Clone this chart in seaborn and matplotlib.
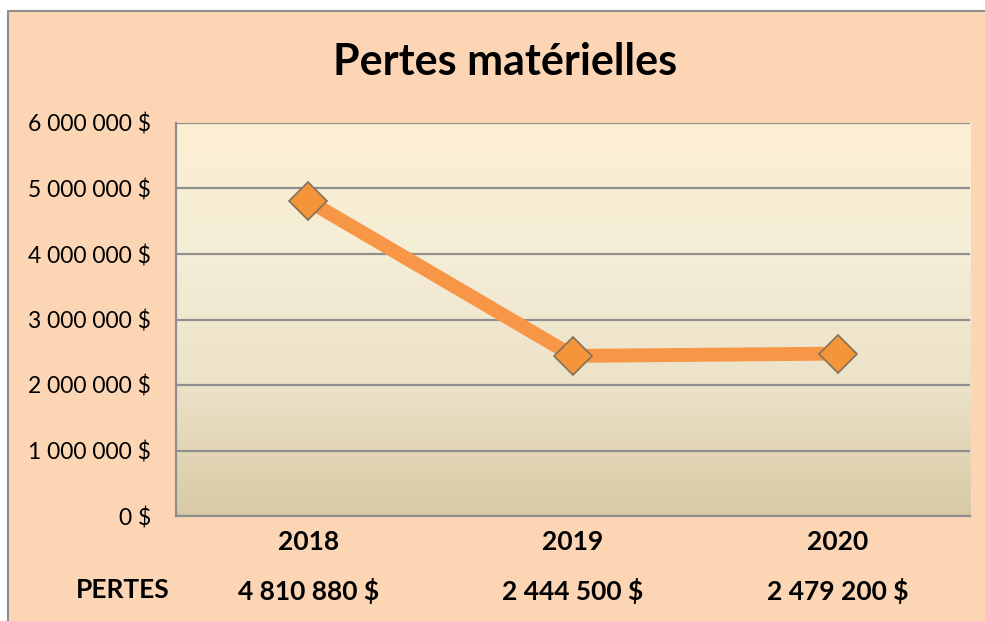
import numpy as np
import pandas as pd
import seaborn as sns
import matplotlib.pyplot as plt
from matplotlib.colors import LinearSegmentedColormap
from matplotlib.ticker import FuncFormatter, MultipleLocator
from matplotlib.patches import Rectangle

# chart data
years = ['2018', '2019', '2020']
pertes = [4810880, 2444500, 2479200]
row_label = 'PERTES'
title = 'Pertes matérielles'

df = pd.DataFrame({'annee': years, 'pertes': pertes})

def fmt_dollars(v):
    return '{:,.0f}'.format(v).replace(',', ' ') + ' $'

plt.rcParams['font.family'] = ['Lato', 'DejaVu Sans']

fig = plt.figure(figsize=(9.85, 6.21), dpi=100)
fig.patch.set_facecolor('white')
# chart frame (peach), kept behind the axes; right and bottom edges run off the image
frame = Rectangle((8 / 985, -0.01), 1.1, 1.01 - 11 / 621, transform=fig.transFigure,
                  facecolor='#FCD5B5', edgecolor='#8E8E8E', linewidth=1.5, zorder=-10)
fig.patches.append(frame)

ax = fig.add_axes([176 / 985, 1 - 516 / 621, 794 / 985, 393 / 621])
ax.set_facecolor('none')

# plot area gradient, cream at top to tan at bottom
grad = LinearSegmentedColormap.from_list('plot_bg', ['#D8CAA5', '#ECE2C8', '#F4EDD7', '#FDEFD3'])
ax.imshow(np.linspace(0, 1, 256).reshape(-1, 1), cmap=grad, aspect='auto', origin='lower',
          extent=(0, 1, 0, 1), transform=ax.transAxes, zorder=0)

sns.lineplot(data=df, x='annee', y='pertes', ax=ax, color='#F79646', linewidth=10,
             marker='D', markersize=19, markerfacecolor='#F39538',
             markeredgecolor='#85705C', markeredgewidth=1.2, zorder=3, sort=False)

ax.set_xlim(-0.5, len(years) - 0.5)
ax.set_ylim(0, 6000000)
ax.yaxis.set_major_locator(MultipleLocator(1000000))
ax.yaxis.set_major_formatter(FuncFormatter(lambda v, p: fmt_dollars(v)))
ax.grid(axis='y', color='#8E8E8E', linewidth=1.6, zorder=1)
ax.set_axisbelow(True)
ax.tick_params(axis='y', length=0, labelsize=16.5, pad=18, labelcolor='black')
ax.tick_params(axis='x', length=0, labelbottom=False)
for s in ['top', 'right']:
    ax.spines[s].set_visible(False)
for s in ['left', 'bottom']:
    ax.spines[s].set_color('#8E8E8E')
    ax.spines[s].set_linewidth(1.6)
ax.set_xlabel('')
ax.set_ylabel('')

# data table under the axis
for i, (yr, val) in enumerate(zip(years, pertes)):
    ax.text(i, -0.065, yr, transform=ax.get_xaxis_transform(), ha='center', va='center',
            fontsize=19, fontweight='bold')
    ax.text(i, -0.19, fmt_dollars(val), transform=ax.get_xaxis_transform(), ha='center',
            va='center', fontsize=19, fontweight='bold')
fig.text(123 / 985, 1 - 590 / 621, row_label, ha='center', va='center', fontsize=19,
         fontweight='bold')

fig.text(505 / 985, 1 - 62 / 621, title, ha='center', va='center', fontsize=31,
         fontweight='bold')

fig.savefig('out.png', dpi=100)
